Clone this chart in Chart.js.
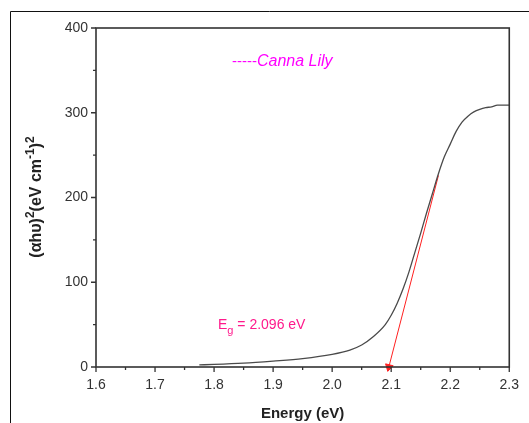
<!DOCTYPE html>
<html>
<head>
<meta charset="utf-8">
<script src="https://cdn.jsdelivr.net/npm/chart.js@4"></script>
<style>
  html, body { margin: 0; padding: 0; background: #fff; }
  #wrap { width: 529px; height: 423px; }
</style>
</head>
<body>
<div id="wrap"><canvas id="c" width="529" height="423"></canvas></div>
<script>
// data
const energy = [1.775, 1.80, 1.85, 1.90, 1.95, 2.00, 2.03, 2.05, 2.07, 2.09, 2.10, 2.11, 2.12, 2.13, 2.14, 2.15, 2.16, 2.17, 2.18, 2.19, 2.20, 2.21, 2.22, 2.23, 2.24, 2.25, 2.26, 2.27, 2.28, 2.29, 2.30];
const absorb = [2.5, 3.0, 4.5, 7, 10, 15, 20, 26, 36, 50, 61, 75, 92, 112, 135, 158, 182, 205, 228, 248, 263, 278, 289, 296, 301, 304, 306, 307, 309, 309, 309];
const fitEnergy = [2.18, 2.096];
const fitAbsorb = [226, 0];
const xTicks = [1.6, 1.7, 1.8, 1.9, 2.0, 2.1, 2.2, 2.3];
const yTicks = [0, 100, 200, 300, 400];

const FONT = 'Arial, "Liberation Sans", sans-serif';

// draws text pieces in a row; raised pieces are smaller
function runs(ctx, x, y, parts) {
  parts.forEach(p => {
    ctx.font = p.font;
    ctx.fillText(p.t, x, y + (p.dy || 0));
    x += ctx.measureText(p.t).width;
  });
  return x;
}

// frame, minor/major ticks, text annotations
const decor = {
  id: 'decor',
  beforeDraw(chart) {
    const ctx = chart.ctx;
    ctx.save();
    ctx.strokeStyle = '#111';
    ctx.lineWidth = 1;
    ctx.beginPath();
    ctx.moveTo(10.5, 423);
    ctx.lineTo(10.5, 11.5);
    ctx.lineTo(529, 11.5);
    ctx.stroke();
    ctx.restore();
  },
  afterDatasetsDraw(chart) {
    const ctx = chart.ctx, a = chart.chartArea;
    const xs = chart.scales.x, ys = chart.scales.y;
    ctx.save();
    ctx.strokeStyle = '#333';
    ctx.lineWidth = 1.6;
    ctx.strokeRect(a.left, a.top, a.right - a.left, a.bottom - a.top);
    ctx.lineWidth = 1.3;
    ctx.beginPath();
    for (let i = 0; i <= 14; i++) {
      const px = xs.getPixelForValue(1.6 + i * 0.05);
      const len = i % 2 === 0 ? 5 : 3;
      ctx.moveTo(px, a.bottom);
      ctx.lineTo(px, a.bottom + len);
    }
    for (let i = 0; i <= 8; i++) {
      const py = ys.getPixelForValue(i * 50);
      const len = i % 2 === 0 ? 5 : 3;
      ctx.moveTo(a.left, py);
      ctx.lineTo(a.left - len, py);
    }
    ctx.stroke();

    ctx.textBaseline = 'middle';

    // legend text
    ctx.fillStyle = '#ff00ff';
    runs(ctx, 232, 62, [
      { t: '-----', font: '15px ' + FONT },
      { t: 'Canna Lily', font: 'italic 16px ' + FONT }
    ]);

    // band gap label
    ctx.fillStyle = '#ff1a8c';
    runs(ctx, 218, 325, [
      { t: 'E', font: '14px ' + FONT },
      { t: 'g', font: '11px ' + FONT, dy: 6 },
      { t: ' = 2.096 eV', font: '14px ' + FONT }
    ]);

    // y axis title
    ctx.save();
    ctx.translate(37, 197);
    ctx.rotate(-Math.PI / 2);
    ctx.fillStyle = '#222';
    const B = 'bold 16px ' + FONT, S = 'bold 12px ' + FONT;
    const parts = [
      { t: '(\u03b1h\u03c5)', font: B },
      { t: '2', font: S, dy: -6 },
      { t: '(eV cm', font: B },
      { t: '-1', font: S, dy: -6 },
      { t: ')', font: B },
      { t: '2', font: S, dy: -6 }
    ];
    let w = 0;
    parts.forEach(p => { ctx.font = p.font; w += ctx.measureText(p.t).width; });
    runs(ctx, -w / 2, 0, parts);
    ctx.restore();

    ctx.restore();
  }
};

new Chart(document.getElementById('c'), {
  type: 'scatter',
  data: {
    datasets: [
      {
        data: energy.map((e, i) => ({ x: e, y: absorb[i] })),
        showLine: true,
        borderColor: '#4a4a4a',
        borderWidth: 1.3,
        pointRadius: 0,
        cubicInterpolationMode: 'monotone'
      },
      {
        data: fitEnergy.map((e, i) => ({ x: e, y: fitAbsorb[i] })),
        showLine: true,
        borderColor: '#ff2020',
        borderWidth: 1,
        pointRadius: [0, 4.5],
        pointStyle: 'triangle',
        rotation: 194,
        pointBackgroundColor: '#ff2020',
        pointBorderColor: '#ff2020',
        clip: false
      }
    ]
  },
  plugins: [decor],
  options: {
    responsive: false,
    animation: false,
    layout: { padding: { left: 0, right: 18, top: 28, bottom: 0 } },
    plugins: { legend: { display: false }, tooltip: { enabled: false } },
    scales: {
      x: {
        type: 'linear',
        min: 1.6, max: 2.3,
        afterBuildTicks: s => { s.ticks = xTicks.map(v => ({ value: v })); },
        afterFit: s => { s.height = 56; },
        grid: { display: false, drawTicks: false },
        border: { display: false },
        ticks: {
          padding: 10,
          color: '#333',
          font: { family: FONT, size: 14 },
          maxRotation: 0,
          callback: v => v.toFixed(1)
        },
        title: {
          display: true,
          text: 'Energy (eV)',
          color: '#222',
          font: { family: FONT, size: 15, weight: 'bold' },
          padding: { top: 2, bottom: 0 }
        }
      },
      y: {
        min: 0, max: 400,
        afterBuildTicks: s => { s.ticks = yTicks.map(v => ({ value: v })); },
        afterFit: s => { s.width = 96; },
        grid: { display: false, drawTicks: false },
        border: { display: false },
        ticks: {
          padding: 8,
          color: '#333',
          font: { family: FONT, size: 14 }
        }
      }
    }
  }
});
</script>
</body>
</html>
